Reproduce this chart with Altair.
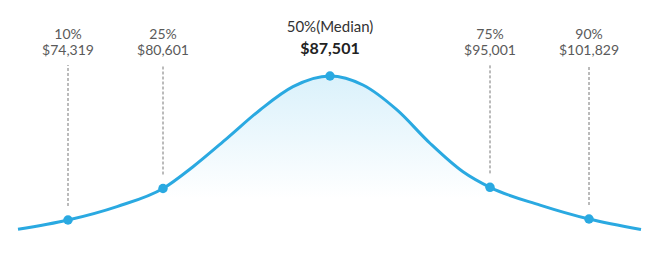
import altair as alt
import pandas as pd

# Curve (position along the axis, relative density)
curve_x = [18, 68, 117, 163, 193, 227, 260, 293, 330, 363, 397, 430, 463, 490, 540, 589, 641]
curve_y = [6.5, 12.2, 20.4, 31.4, 44.7, 62.0, 79.3, 93.5, 100.0, 94.5, 79.3, 59.0, 41.6, 32.1, 21.3, 12.8, 6.4]

# Percentile markers
pct_labels = ["10%", "25%", "50%(Median)", "75%", "90%"]
salary_labels = ["$74,319", "$80,601", "$87,501", "$95,001", "$101,829"]
pct_x = [68, 163, 330, 490, 589]
pct_y = [12.2, 31.4, 100.0, 32.1, 12.8]
is_median = [False, False, True, False, False]

curve = pd.DataFrame({"x": curve_x, "y": curve_y})
pts = pd.DataFrame({"x": pct_x, "y": pct_y, "pct": pct_labels,
                    "sal": salary_labels, "median": is_median})

xs = alt.Scale(domain=[0, 654])
ys = alt.Scale(domain=[-15.85, 146.34])
X = alt.X("x:Q", scale=xs, axis=None)
Y = alt.Y("y:Q", scale=ys, axis=None)

FONT = "Lato"
BLUE = "#2aa9e1"

area = alt.Chart(curve).mark_area(
    interpolate="monotone",
    color=alt.Gradient(
        gradient="linear",
        stops=[alt.GradientStop(color="#daf1fb", offset=0),
               alt.GradientStop(color="#ffffff", offset=0.75)],
        x1=1, x2=1, y1=0, y2=1),
).encode(x=X, y=Y, y2=alt.value(266))

line = alt.Chart(curve).mark_line(
    interpolate="monotone", color=BLUE, strokeWidth=3
).encode(x=X, y=Y)

others = alt.Chart(pts).transform_filter("!datum.median")
med = alt.Chart(pts).transform_filter("datum.median")

rules = others.mark_rule(
    color="#777777", strokeWidth=1, strokeDash=[3, 2], yOffset=-14
).encode(x=X, y=Y, y2=alt.value(65))

dots = alt.Chart(pts).mark_circle(size=90, color=BLUE, opacity=1).encode(x=X, y=Y)

pct_text = others.mark_text(
    font=FONT, fontSize=14, color="#5a5a5a", baseline="alphabetic", align="center"
).encode(x=X, y=alt.value(39), text="pct:N")

sal_text = others.mark_text(
    font=FONT, fontSize=14, color="#5a5a5a", baseline="alphabetic", align="center"
).encode(x=X, y=alt.value(55), text="sal:N")

med_pct = med.mark_text(
    font=FONT, fontSize=15, color="#333333", baseline="alphabetic", align="center"
).encode(x=X, y=alt.value(32), text="pct:N")

med_sal = med.mark_text(
    font=FONT, fontSize=16, fontWeight="bold", color="#222222",
    baseline="alphabetic", align="center"
).encode(x=X, y=alt.value(54), text="sal:N")

chart = alt.layer(area, line, rules, dots, pct_text, sal_text, med_pct, med_sal).properties(
    width=654, height=266, padding=0, autosize=alt.AutoSizeParams(type="none"),
    background="white"
).configure_view(stroke=None)

chart.save("out.html", embed_options={"renderer": "svg", "actions": False})
